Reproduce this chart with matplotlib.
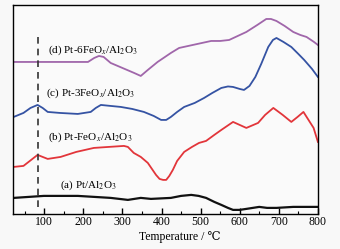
import numpy as np
import matplotlib
matplotlib.use("Agg")
import matplotlib.pyplot as plt

plt.rcParams['font.family'] = ['Liberation Serif', 'DejaVu Serif']
plt.rcParams['mathtext.fontset'] = 'stix'

# TPR curves, temperature (C) vs signal (a.u., offset stacked)
temp_d = [22, 212, 228, 240, 252, 270, 300, 330, 347, 365, 390, 424, 445, 480, 527,
          550, 573, 595, 617, 645, 668, 680, 694, 715, 737, 755, 771, 790, 800]
sig_d = [152, 152, 156, 158, 157, 151, 146, 141, 138, 144, 152, 161, 166, 169, 173,
         173, 174, 178, 182, 189, 195, 195, 193, 188, 182, 179, 177, 172, 169]

temp_c = [22, 47, 65, 83, 96, 109, 140, 186, 219, 232, 245, 270, 296, 325, 355,
          380, 399, 412, 424, 440, 458, 485, 509, 530, 553, 570, 583, 600, 611,
          625, 640, 655, 673, 685, 694, 712, 732, 750, 765, 785, 800]
sig_c = [97, 101, 106, 109, 106, 102, 101, 100, 102, 106, 109, 108, 107, 105, 102,
         98, 94, 94, 97, 102, 107, 111, 116, 121, 126, 127.5, 127, 125, 124,
         128, 137, 150, 167, 174, 176, 172, 167, 160, 154, 145, 137]

temp_b = [22, 47, 83, 109, 142, 182, 227, 265, 304, 314, 329, 347, 365, 386, 395,
          404, 412, 420, 429, 440, 458, 478, 496, 514, 535, 553, 583, 600, 617,
          647, 665, 686, 710, 732, 748, 763, 789, 800]
sig_b = [47, 48, 59, 55, 57, 62, 66, 67, 68, 67, 61, 57, 51, 39, 35,
         34, 34, 38, 44, 53, 62, 67, 71, 73, 79, 84, 92, 89, 86,
         91, 99, 106, 99, 92, 97, 102, 86, 72]

temp_a = [22, 99, 186, 270, 314, 347, 373, 424, 450, 476, 495, 514, 535, 553, 570,
          583, 600, 617, 650, 670, 694, 737, 800]
sig_a = [16, 18, 18, 16, 14, 16, 15, 16, 18, 19, 18, 16, 12, 9, 6,
         4, 4, 5, 7, 6, 6, 7, 7]

labels = [r"(d) Pt-6FeO$_x$/Al$_2$O$_3$", r"(c) Pt-3FeO$_x$/Al$_2$O$_3$",
          r"(b) Pt-FeO$_x$/Al$_2$O$_3$", r"(a) Pt/Al$_2$O$_3$"]
label_pos = [(109, 164), (104, 121), (109, 77), (140, 29)]
colors = ["#a066aa", "#3553a3", "#e2353a", "#111111"]
widths = [1.3, 1.3, 1.3, 1.6]
dash_temp = 85

fig = plt.figure(figsize=(3.4, 2.49), dpi=100, facecolor="#f8f8f8")
ax = fig.add_axes([0.038, 0.141, 0.897, 0.839])
ax.set_facecolor("#fafafa")

curves = [(temp_d, sig_d), (temp_c, sig_c), (temp_b, sig_b), (temp_a, sig_a)]
for (t, s), c, w in zip(curves, colors, widths):
    ax.plot(t, s, color=c, lw=w)

for txt, (x, y) in zip(labels, label_pos):
    ax.text(x, y, txt, fontsize=8, va="center", ha="left")

ax.vlines(dash_temp, 7, 182, colors="#333333", linestyles=(0, (4, 3)), lw=1.2)

ax.set_xlim(20, 800)
ax.set_ylim(0, 209)
ax.set_xticks(range(100, 801, 100))
ax.set_xticks(range(50, 801, 50), minor=True)
ax.set_yticks([])
ax.tick_params(axis='x', which='major', direction='in', length=4, width=1,
               labelsize=8.5, pad=1.5)
ax.tick_params(axis='x', which='minor', direction='in', length=2.5, width=0.8)
for sp in ax.spines.values():
    sp.set_linewidth(1.0)

ax.set_xlabel("Temperature / ℃", fontsize=8.5)
ax.xaxis.set_label_coords(0.548, -0.08)

fig.savefig("out.png", dpi=100, facecolor=fig.get_facecolor())
